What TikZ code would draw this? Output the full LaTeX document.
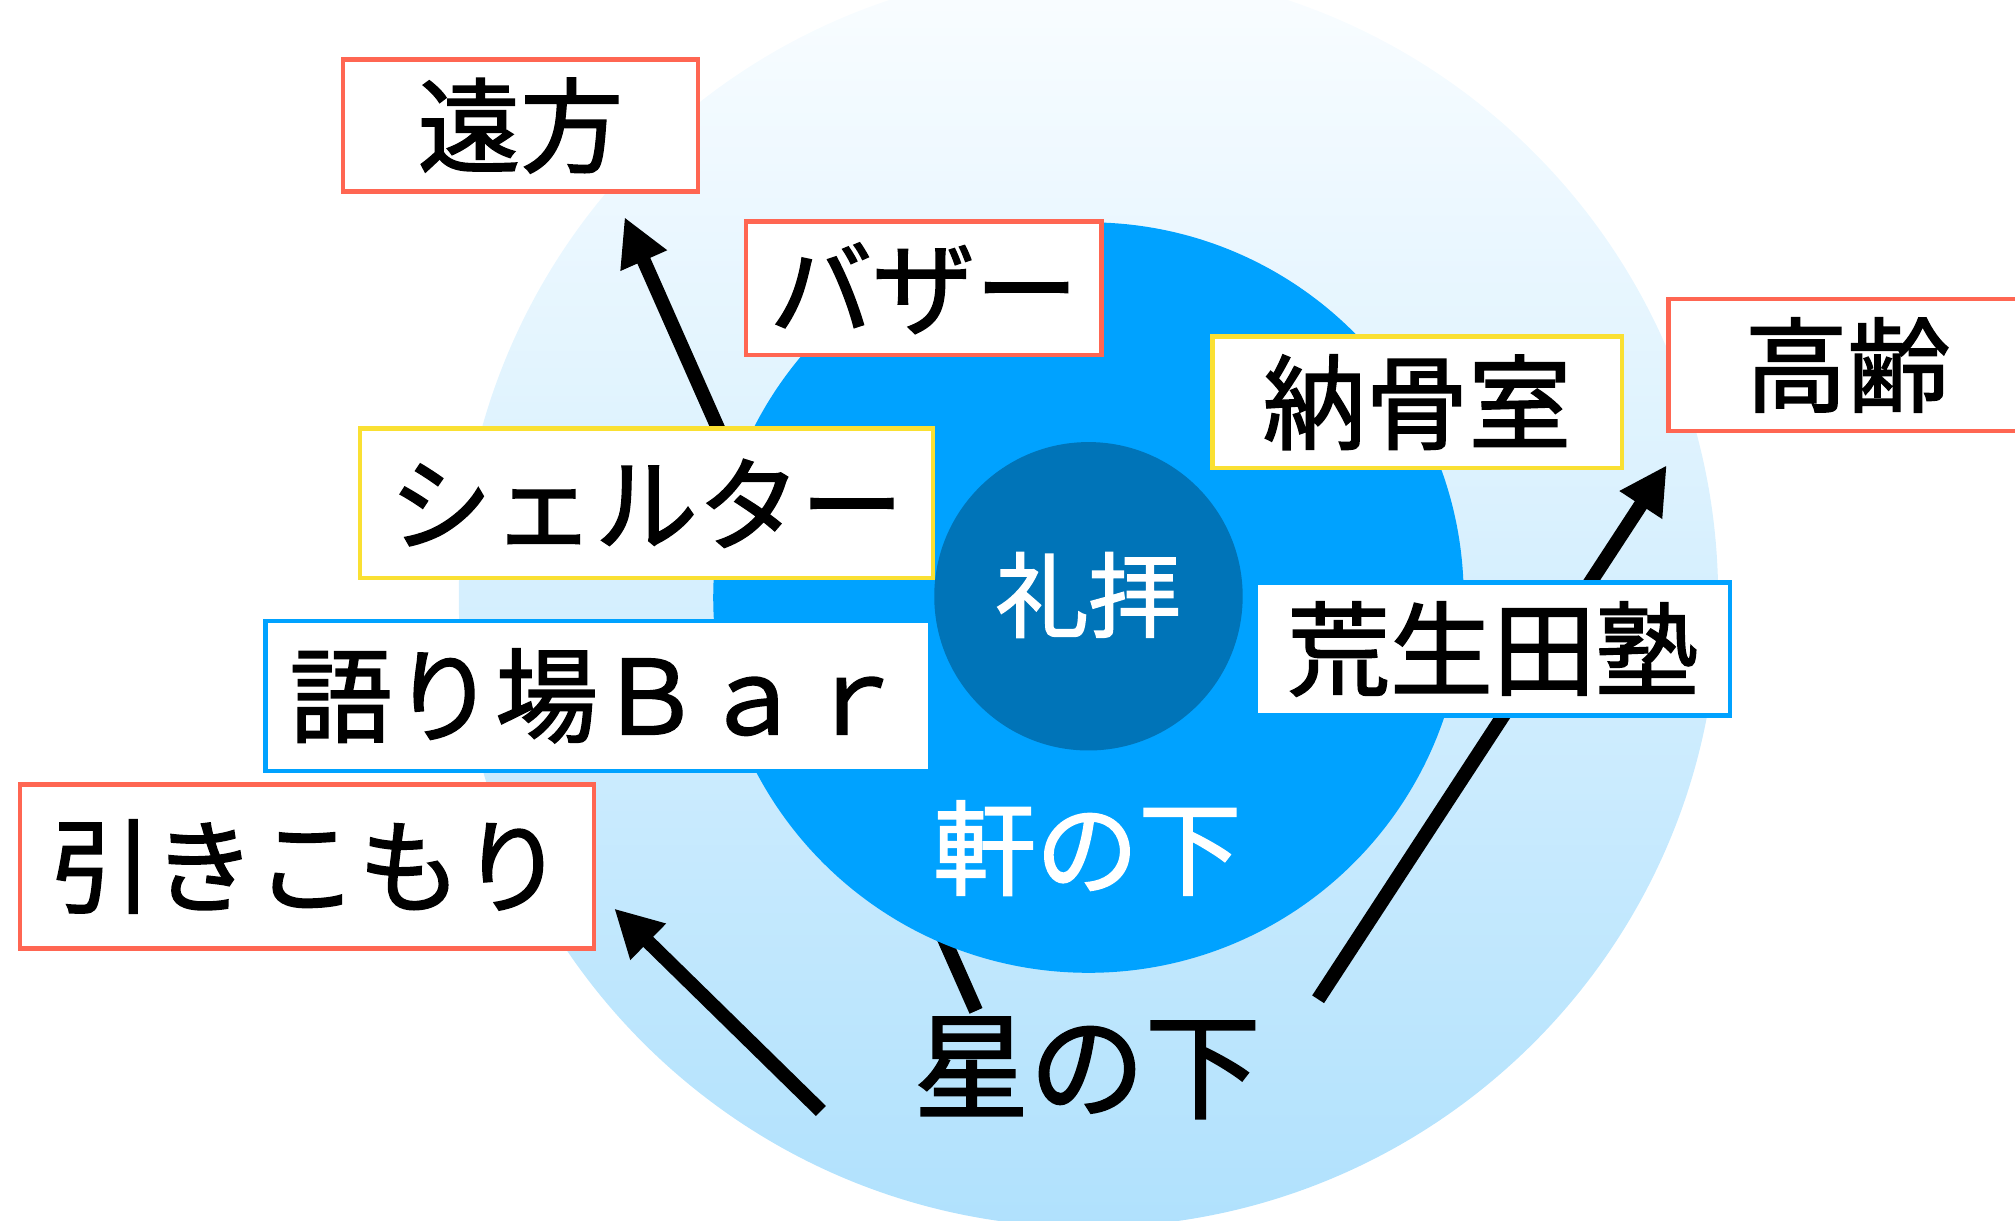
\documentclass[tikz,border=0pt]{standalone}
\usepackage{fontspec}
\setmainfont{Noto Sans CJK JP}[FakeBold=1.6]
\usetikzlibrary{arrows.meta}
\definecolor{outerTop}{RGB}{250,253,255}
\definecolor{outerBot}{RGB}{176,225,253}
\definecolor{midBlue}{RGB}{0,162,255}
\definecolor{innerBlue}{RGB}{0,116,184}
\definecolor{boxRed}{RGB}{255,102,82}
\definecolor{boxYellow}{RGB}{250,224,50}
\definecolor{boxBlue}{RGB}{0,162,255}
\begin{document}
\begin{tikzpicture}[x=1pt,y=-1pt,
  box/.style={draw, line width=3.5pt, fill=white, inner sep=0pt,
    font=\fontsize{80pt}{96pt}\selectfont},
  redbox/.style={box, draw=boxRed},
  yellowbox/.style={box, draw=boxYellow},
  bluebox/.style={box, draw=boxBlue},
  arr/.style={line width=11pt, -{Triangle[length=37pt,width=37pt]}},
  ringlabel/.style={text=white, inner sep=0pt}
]
\useasboundingbox (0,0) rectangle (1568,950);
% outer ring
\shade[top color=outerTop, bottom color=outerBot] (847,465) circle[radius=490pt];
% arrow end points
\coordinate (a1s) at (759.5,786.6);
\coordinate (a1e) at (486,169);
\coordinate (a2s) at (638.8,864.5);
\coordinate (a2e) at (478,707);
\coordinate (a3s) at (1025.7,777.6);
\coordinate (a3e) at (1297,362);
\draw[arr] (a1s) -- (a1e);
\draw[arr] (a2s) -- (a2e);
\draw[arr] (a3s) -- (a3e);
% middle and inner rings
\fill[midBlue] (847,465) circle[radius=292pt];
\fill[innerBlue] (847,464) circle[radius=120pt];
\node[ringlabel, font=\fontsize{72pt}{86pt}\selectfont] (reihai) at (847,463) {礼拝};
\node[ringlabel, font=\fontsize{80pt}{96pt}\selectfont] (noki) at (846,660) {軒の下};
% boxes
\node[redbox, minimum width=276pt, minimum height=102.7pt] (enpo) at (405,97.7) {遠方};
\node[redbox, minimum width=276.5pt, minimum height=103.6pt] (bazaar) at (718.9,224.3) {バザー};
\node[yellowbox, minimum width=445.8pt, minimum height=116.5pt] (shelter) at (503,391.7) {シェルター};
\node[bluebox, minimum width=517.5pt, minimum height=116.6pt] (katari) at (465.4,541.5) {語り場Ｂａｒ};
\node[redbox, minimum width=446.5pt, minimum height=127.5pt] (hiki) at (238.8,674.2) {引きこもり};
\node[yellowbox, minimum width=318.7pt, minimum height=102.5pt] (nokotsu) at (1102.7,313) {納骨室};
\node[redbox, minimum width=278.5pt, minimum height=102.5pt] (kourei) at (1437.7,284) {高齢};
\node[bluebox, minimum width=368.9pt, minimum height=103.2pt] (aruta) at (1161.6,505) {荒生田塾};
% bottom label
\node[inner sep=0pt, font=\fontsize{90pt}{108pt}\selectfont] (hoshi) at (846,831) {星の下};
\end{tikzpicture}
\end{document}
